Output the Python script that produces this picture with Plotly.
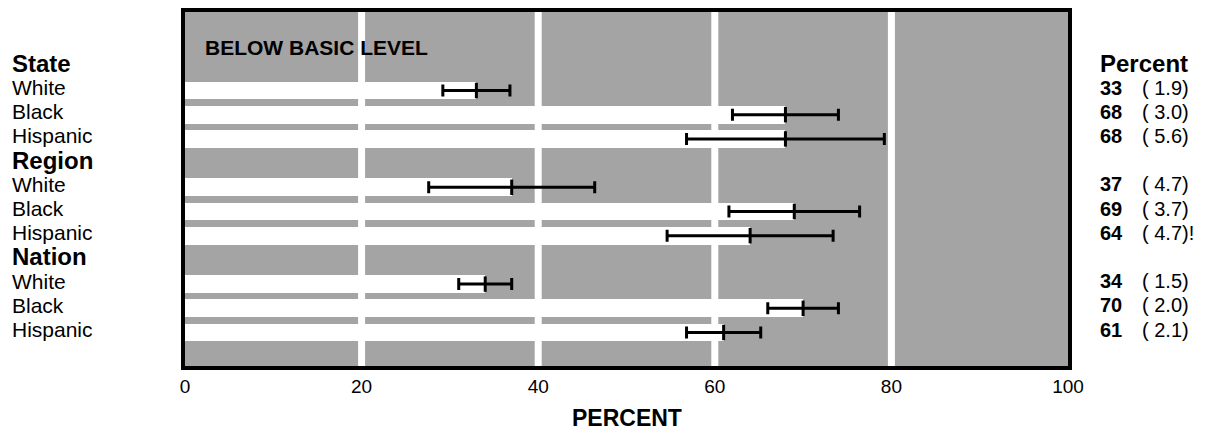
import plotly.graph_objects as go

# ---- data ----
groups = ["State", "Region", "Nation"]
races = ["White", "Black", "Hispanic"]
state_pct = [33, 68, 68]
region_pct = [37, 69, 64]
nation_pct = [34, 70, 61]
state_se = ["1.9", "3.0", "5.6"]
region_se = ["4.7", "3.7", "4.7"]
nation_se = ["1.5", "2.0", "2.1"]
region_flags = ["", "", "!"]
state_ci = [3.8, 6.0, 11.2]
region_ci = [9.4, 7.4, 9.4]
nation_ci = [3.0, 4.0, 4.2]
x_ticks = [0, 20, 40, 60, 80, 100]
grid_vals = [20, 40, 60, 80]
title_text = "BELOW BASIC LEVEL"
x_title = "PERCENT"
right_header = "Percent"

pct = [state_pct, region_pct, nation_pct]
ses = [state_se, region_se, nation_se]
cis = [state_ci, region_ci, nation_ci]
flags = [["", "", ""], region_flags, ["", "", ""]]

FONT = "Liberation Sans, Arial, sans-serif"

cats, bar_y, bar_x, ci_x = [], [], [], []
for g, p, c in zip(groups, pct, cis):
    cats.append(g)
    for r, v, e in zip(races, p, c):
        key = f"{g}|{r}"
        cats.append(key)
        bar_y.append(key)
        bar_x.append(v)
        ci_x.append(e)

fig = go.Figure()
fig.add_trace(go.Bar(
    x=bar_x, y=bar_y, orientation="h", width=0.74,
    marker=dict(color="white", line=dict(width=0)),
    hoverinfo="skip", showlegend=False,
))
fig.add_trace(go.Scatter(
    x=bar_x, y=bar_y, mode="markers",
    marker=dict(symbol="line-ns", size=11, color="black",
                line=dict(width=3, color="black")),
    error_x=dict(type="data", array=ci_x, visible=True,
                 thickness=3, width=6, color="black"),
    hoverinfo="skip", showlegend=False,
))

# page body has an 8px margin; compensate so plot lands where the reference has it
OFF = 8
W, H = 1205 - OFF, 432 - OFF
PL, PR, PT, PB = 185, 1068, 12, 366   # plot edges in screen pixels
L = PL - OFF
T = PT - OFF
R = W - (PR - OFF)
B = H - (PB - OFF)
pw = PR - PL
ph = PB - PT
ROW0, ROWSTEP = 66.3, 24.2           # screen y of first row, row spacing

def px_to_paper_x(px):
    return (px - PL) / pw

def px_to_paper_y(py):
    return 1 - (py - PT) / ph

annotations = []
# left labels
for g, p in zip(groups, pct):
    annotations.append(dict(
        text=f"<b>{g}</b>", x=px_to_paper_x(10), xref="paper", y=g, yref="y",
        xanchor="left", yanchor="middle", showarrow=False, yshift=3,
        font=dict(family=FONT, size=24, color="black")))
    for r in races:
        annotations.append(dict(
            text=r, x=px_to_paper_x(10), xref="paper", y=f"{g}|{r}", yref="y",
            xanchor="left", yanchor="middle", showarrow=False, yshift=3,
            font=dict(family=FONT, size=21, color="black")))

# right column
annotations.append(dict(
    text=f"<b>{right_header}</b>", x=px_to_paper_x(1098), xref="paper",
    y=groups[0], yref="y", xanchor="left", yanchor="middle", showarrow=False,
    yshift=3, font=dict(family=FONT, size=24, color="black")))
for g, p, s, fl in zip(groups, pct, ses, flags):
    for r, v, se, f in zip(races, p, s, fl):
        key = f"{g}|{r}"
        annotations.append(dict(
            text=f"<b>{v}</b>", x=px_to_paper_x(1098), xref="paper", y=key,
            yref="y", xanchor="left", yanchor="middle", showarrow=False,
            yshift=3, font=dict(family=FONT, size=20, color="black")))
        annotations.append(dict(
            text=f"( {se}){f}", x=px_to_paper_x(1140), xref="paper", y=key,
            yref="y", xanchor="left", yanchor="middle", showarrow=False,
            yshift=3, font=dict(family=FONT, size=20, color="black")))

# title inside plot
annotations.append(dict(
    text=f"<b>{title_text}</b>", x=px_to_paper_x(203), xref="paper",
    y=px_to_paper_y(47), yref="paper", xanchor="left", yanchor="middle",
    showarrow=False, font=dict(family=FONT, size=21, color="black")))
# x axis title
annotations.append(dict(
    text=f"<b>{x_title}</b>", x=0.5, xref="paper",
    y=px_to_paper_y(418), yref="paper", xanchor="center", yanchor="middle",
    showarrow=False, font=dict(family=FONT, size=23, color="black")))

shapes = [dict(type="line", xref="x", yref="paper", x0=v, x1=v, y0=0, y1=1,
               line=dict(color="white", width=7), layer="below")
          for v in grid_vals]

y_top = (PT - ROW0) / ROWSTEP
y_bot = (PB - ROW0) / ROWSTEP

fig.update_layout(
    width=W, height=H,
    margin=dict(l=L, r=R, t=T, b=B, pad=0, autoexpand=False),
    paper_bgcolor="white",
    plot_bgcolor="#a4a4a4",
    bargap=0,
    annotations=annotations,
    shapes=shapes,
    xaxis=dict(range=[0, 100], tickvals=x_ticks, ticktext=[str(t) for t in x_ticks],
               showgrid=False, zeroline=False, showline=True, linewidth=4,
               linecolor="black", mirror=True, ticks="",
               tickfont=dict(family=FONT, size=19, color="black"), fixedrange=True),
    yaxis=dict(type="category", categoryorder="array", categoryarray=cats,
               range=[y_bot, y_top], showticklabels=False, showgrid=False,
               zeroline=False, showline=True, linewidth=4, linecolor="black",
               mirror=True, ticks="", fixedrange=True),
)

fig.write_html("out.html")
